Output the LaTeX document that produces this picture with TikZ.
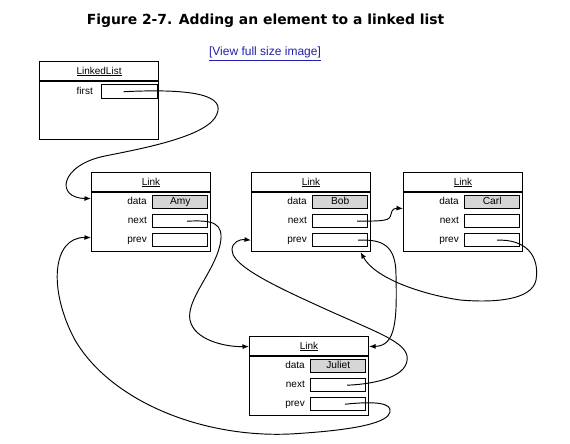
\documentclass[tikz,border=0pt]{standalone}
\usepackage{fontspec}
\setmainfont{Liberation Sans}
\newfontfamily\titlefont{DejaVu Sans}
\usetikzlibrary{arrows.meta}
\definecolor{fieldgray}{RGB}{214,214,214}
\definecolor{linkblue}{RGB}{34,34,170}
\tikzset{
  objbox/.style={draw, line width=1.1pt, minimum width=119pt, minimum height=79pt, inner sep=0pt, anchor=north west},
  fieldbox/.style={draw, line width=1.4pt, minimum width=55pt, minimum height=13pt, inner sep=0pt, anchor=north west, text height=7.2pt, text depth=2pt, font=\fontsize{10.2}{12}\selectfont},
  lbl/.style={anchor=east, inner sep=0pt, text height=7.2pt, text depth=2pt, font=\fontsize{10}{12}\selectfont},
  hdr/.style={inner sep=0pt, font=\fontsize{10}{12}\selectfont},
  ptr/.style={line width=0.95pt, -{Latex[length=6.5pt,width=5pt]}},
}
\newcommand\mklink[4]{%
  \node[objbox] (#1) at (#2,#3) {};
  \draw[line width=1.1pt] ([yshift=-20pt]#1.north west) -- ([yshift=-20pt]#1.north east);
  \node[hdr] (#1H) at ([yshift=-10.5pt]#1.north) {\underline{Link}};
  \node[fieldbox, fill=fieldgray] (#1D) at ([xshift=61pt,yshift=-23pt]#1.north west) {#4};
  \node[fieldbox] (#1N) at ([xshift=61pt,yshift=-42pt]#1.north west) {};
  \node[fieldbox] (#1P) at ([xshift=61pt,yshift=-61pt]#1.north west) {};
  \node[lbl] (#1Dl) at ([xshift=-5pt]#1D.west) {data};
  \node[lbl] (#1Nl) at ([xshift=-5pt]#1N.west) {next};
  \node[lbl] (#1Pl) at ([xshift=-5pt]#1P.west) {prev};
}
\begin{document}
\begin{tikzpicture}[x=1pt, y=-1pt]
\useasboundingbox (0,0) rectangle (570,444);
\fill[white] (0,0) rectangle (570,444);

\node[anchor=base, inner sep=0pt, font=\titlefont\bfseries\fontsize{13.9}{16}\selectfont] (title) at (265.5,25) {Figure 2-7. Adding an element to a linked list};
\node[anchor=base, inner sep=0pt, text=linkblue, font=\fontsize{12}{14}\selectfont] (view) at (265,56) {\underline{[View full size image]}};

% LinkedList object
\node[objbox, minimum height=78pt] (ll) at (39,61) {};
\draw[line width=1.1pt] ([yshift=-20pt]ll.north west) -- ([yshift=-20pt]ll.north east);
\node[hdr] (llH) at ([yshift=-10.5pt]ll.north) {\underline{LinkedList}};
\node[fieldbox, minimum width=56pt, minimum height=14pt] (llF) at ([xshift=62pt,yshift=-23pt]ll.north west) {};
\node[lbl] (llFl) at ([xshift=-8pt]llF.west) {first};

\mklink{amy}{91}{172}{Amy}
\mklink{bob}{251}{172}{Bob}
\mklink{carl}{403}{172}{Carl}
\mklink{jul}{249}{336}{Juliet}

% first -> Amy
\draw[ptr] ([xshift=-6pt]llF.center) .. controls (200,88) and (224,97) .. (217,114)
  .. controls (209,136) and (145,148) .. (105,156)
  .. controls (60,165) and (55,198) .. ([yshift=13.5pt]amy.west);
% Amy next -> Juliet
\draw[ptr] ([xshift=7pt]amyN.center) .. controls (212,220) and (225,222) .. (220,245)
  .. controls (214,272) and (186,300) .. (190,320)
  .. controls (194,340) and (225,347) .. (jul.west |- julH.center);
% Bob prev -> Juliet
\draw[ptr] ([xshift=18pt]bobP.center) .. controls (382,239) and (396,245) .. (396,275)
  .. controls (397,320) and (396,346) .. (jul.east |- julH.center);
% Bob next -> Carl
\draw[ptr] ([xshift=17pt]bobN.center) .. controls (385,221) and (390,221) .. (391,214)
  .. controls (392,209) and (395,208) .. ([yshift=3.5pt]carl.west);
% Carl prev -> Bob
\draw[ptr] ([xshift=5pt]carlP.center) .. controls (525,239) and (540,255) .. (536,280)
  .. controls (532,300) and (495,303) .. (460,300)
  .. controls (420,294) and (375,278) .. ([xshift=49.5pt]bob.south);
% Juliet next -> Bob
\draw[ptr] ([xshift=9pt]julN.center) .. controls (377,384) and (410,376) .. (407,356)
  .. controls (404,340) and (370,330) .. (310,302)
  .. controls (255,277) and (232,262) .. (232,250)
  .. controls (232,242) and (240,239) .. (bob.west |- bobP.center);
% Juliet prev -> Amy
\draw[ptr] ([xshift=7pt]julP.center) .. controls (376,401) and (392,403) .. (390,412)
  .. controls (388,422) and (360,430) .. (290,434)
  .. controls (200,438) and (110,400) .. (75,340)
  .. controls (48,290) and (52,237) .. ([yshift=-25.5pt]amy.west);
\end{tikzpicture}
\end{document}
